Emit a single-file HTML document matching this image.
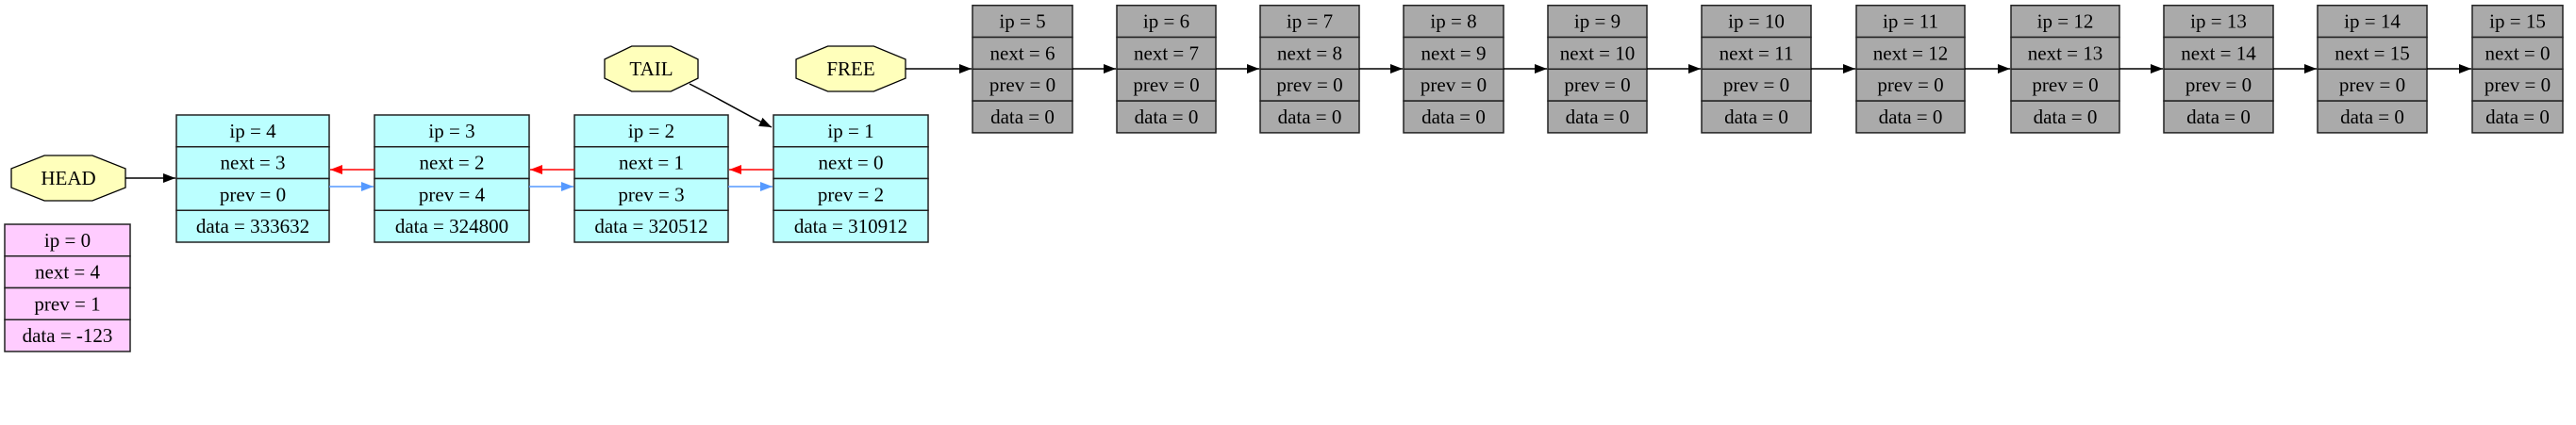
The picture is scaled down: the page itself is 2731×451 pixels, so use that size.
<!DOCTYPE html>
<html><head><meta charset="utf-8"><style>
html,body{margin:0;padding:0;background:#fff;width:2731px;height:451px;overflow:hidden}
svg text{font-family:"Liberation Serif",serif;font-size:21px;fill:#000}
</style></head><body>
<svg width="2731" height="451" xmlns="http://www.w3.org/2000/svg" id="s">
<defs>
<marker id="ab" markerWidth="13" markerHeight="10" refX="13" refY="5" orient="auto" markerUnits="userSpaceOnUse"><path d="M0,0 L13,5 L0,10z" fill="#000"/></marker>
<marker id="ar" markerWidth="13" markerHeight="10" refX="13" refY="5" orient="auto" markerUnits="userSpaceOnUse"><path d="M0,0 L13,5 L0,10z" fill="#ff0000"/></marker>
<marker id="abl" markerWidth="13" markerHeight="10" refX="13" refY="5" orient="auto" markerUnits="userSpaceOnUse"><path d="M0,0 L13,5 L0,10z" fill="#5599ff"/></marker>
</defs>
<g id="g"></g>
</svg>
<script>
var g=document.getElementById('g'),h='';
function box(x,y,w,rh,fill,labels){
 for(var i=0;i<4;i++){
  h+='<rect x="'+x+'" y="'+(y+i*rh)+'" width="'+w+'" height="'+rh+'" fill="'+fill+'" stroke="#222" stroke-width="1.5"/>';
  h+='<text x="'+(x+w/2)+'" y="'+(y+i*rh+rh/2+7)+'" text-anchor="middle">'+labels[i]+'</text>';
 }
}
function oct(x1,y1,x2,y2,t){
 var w=x2-x1,hh=y2-y1,a=0.29;
 var p=[[x1+a*w,y1],[x2-a*w,y1],[x2,y1+a*hh],[x2,y2-a*hh],[x2-a*w,y2],[x1+a*w,y2],[x1,y2-a*hh],[x1,y1+a*hh]];
 h+='<polygon points="'+p.map(function(q){return q.join(',')}).join(' ')+'" fill="#ffffbb" stroke="#000" stroke-width="1.3"/>';
 h+='<text x="'+((x1+x2)/2)+'" y="'+((y1+y2)/2+7)+'" text-anchor="middle">'+t+'</text>';
}
function line(x1,y1,x2,y2,c,m){h+='<line x1="'+x1+'" y1="'+y1+'" x2="'+x2+'" y2="'+y2+'" stroke="'+c+'" stroke-width="1.5" marker-end="url(#'+m+')"/>';}
box(5,238,133,33.75,'#ffccff',['ip = 0','next = 4','prev = 1','data = -123']);
var cx=[[187,349],[397,561],[609,772],[820,984]];
var cd=[[4,3,0,333632],[3,2,4,324800],[2,1,3,320512],[1,0,2,310912]];
for(var i=0;i<4;i++){var c=cx[i],d=cd[i];box(c[0],122,c[1]-c[0],33.75,'#bbffff',['ip = '+d[0],'next = '+d[1],'prev = '+d[2],'data = '+d[3]]);}
for(var i=0;i<3;i++){
 line(cx[i+1][0],180,cx[i][1]+1,180,'#ff0000','ar');
 line(cx[i][1],198,cx[i+1][0]-1,198,'#5599ff','abl');
}
oct(12,165,133,213,'HEAD');
line(133,189,186,189,'#000','ab');
oct(641,49,740,97,'TAIL');
oct(844,49,960,97,'FREE');
h+='<path d="M731,89 C765,106 795,124 818,135" fill="none" stroke="#000" stroke-width="1.5" marker-end="url(#ab)"/>';
var gx=[[1031,1137],[1184,1289],[1336,1441],[1488,1594],[1641,1746],[1804,1920],[1968,2083],[2132,2247],[2294,2410],[2457,2573],[2621,2717]];
for(var i=0;i<11;i++){var ip=i+5,nx=ip==15?0:ip+1;box(gx[i][0],5.7,gx[i][1]-gx[i][0],33.8,'#aaaaaa',['ip = '+ip,'next = '+nx,'prev = 0','data = 0']);}
line(960,73,1030,73,'#000','ab');
for(var i=0;i<10;i++)line(gx[i][1],73,gx[i+1][0]-1,73,'#000','ab');
g.innerHTML=h;
</script>
</body></html>
